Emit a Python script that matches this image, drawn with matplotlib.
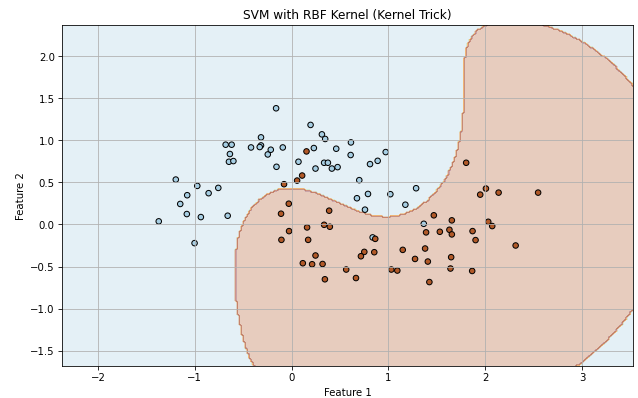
import numpy as np
import matplotlib
matplotlib.use("Agg")
import matplotlib.pyplot as plt

# points: class 0 (upper moon) and class 1 (lower moon)
x0 = [-0.681, -0.619, -0.316, -0.419, -0.316, -0.329, -0.246, -0.215, -0.637, -0.647,
      -0.601, -1.196, -0.974, -0.757, -1.078, -0.857, -1.150, -1.082, -0.937, -0.660,
      -1.372, -1.002, -0.160, 0.196, 0.313, 0.347, -0.091, 0.230, 0.461, 0.613,
      0.610, 0.972, -0.156, 0.071, 0.247, 0.336, 0.375, 0.416, 0.475, 0.810,
      0.889, 0.699, 0.675, 0.789, 0.758, 1.020, 1.286, 1.175, 1.365, 0.837]
y0 = [0.949, 0.949, 1.036, 0.916, 0.940, 0.921, 0.833, 0.889, 0.838, 0.746,
      0.754, 0.534, 0.459, 0.435, 0.348, 0.372, 0.244, 0.124, 0.088, 0.104,
      0.037, -0.222, 1.382, 1.184, 1.072, 1.017, 0.916, 0.909, 0.901, 0.976,
      0.826, 0.861, 0.686, 0.746, 0.665, 0.734, 0.734, 0.665, 0.682, 0.718,
      0.757, 0.527, 0.312, 0.363, 0.176, 0.360, 0.431, 0.235, 0.008, -0.154]
x1 = [0.154, 0.109, 0.057, -0.078, -0.029, -0.109, 0.388, 0.336, 0.395, 0.160,
      -0.026, 1.803, 2.007, 1.948, 2.138, 2.546, 1.469, 1.655, 2.031, 2.072,
      1.389, 1.531, 1.630, 1.655, 1.869, -0.105, 0.171, 0.247, 0.116, 0.212,
      0.320, 0.564, 0.344, 1.900, 2.314, 0.864, 0.751, 0.716, 0.854, 1.148,
      1.379, 1.275, 1.407, 1.648, 0.665, 1.030, 1.092, 1.641, 1.865, 1.423]
y1 = [0.869, 0.582, 0.522, 0.479, 0.247, 0.128, 0.164, -0.004, -0.027, -0.035,
      -0.079, 0.734, 0.427, 0.355, 0.379, 0.379, 0.109, 0.049, 0.032, -0.019,
      -0.094, -0.087, -0.063, -0.118, -0.079, -0.183, -0.183, -0.369, -0.461, -0.473,
      -0.470, -0.536, -0.652, -0.186, -0.250, -0.171, -0.326, -0.378, -0.330, -0.302,
      -0.286, -0.410, -0.441, -0.389, -0.637, -0.536, -0.548, -0.524, -0.553, -0.685]

X = np.column_stack([x0 + x1, y0 + y1])
y = np.array([0] * len(x0) + [1] * len(x1))


def rbf(A, B, gamma):
    d = (A ** 2).sum(1)[:, None] + (B ** 2).sum(1)[None, :] - 2 * A @ B.T
    return np.exp(-gamma * d)


def fit_svc(X, y, C=1.0, tol=1e-3, max_iter=100000):
    """Small SMO solver (maximal violating pair), like libsvm's."""
    gamma = 1.0 / (X.shape[1] * X.var())
    s = np.where(y == 1, 1.0, -1.0)
    K = rbf(X, X, gamma)
    Q = s[:, None] * s[None, :] * K
    a = np.zeros(len(s))
    G = -np.ones(len(s))
    for _ in range(max_iter):
        up = ((s > 0) & (a < C)) | ((s < 0) & (a > 0))
        low = ((s > 0) & (a > 0)) | ((s < 0) & (a < C))
        v = -s * G
        iu, il = np.where(up)[0], np.where(low)[0]
        i = iu[np.argmax(v[iu])]
        j = il[np.argmin(v[il])]
        if v[i] - v[j] < tol:
            break
        eta = max(K[i, i] + K[j, j] - 2 * K[i, j], 1e-12)
        t = (v[i] - v[j]) / eta
        t = min(t, C - a[i] if s[i] > 0 else a[i])
        t = min(t, a[j] if s[j] > 0 else C - a[j])
        a[i] += s[i] * t
        a[j] -= s[j] * t
        G += Q[:, i] * s[i] * t - Q[:, j] * s[j] * t
    free = (a > 1e-8) & (a < C - 1e-8)
    f = K @ (a * s)
    rho = np.mean(f[free] - s[free]) if free.any() else 0.0
    return gamma, a * s, rho


gamma, coef, rho = fit_svc(X, y)

# mesh for the decision regions
h = 0.02
x_min, x_max = X[:, 0].min() - 1, X[:, 0].max() + 1
y_min, y_max = X[:, 1].min() - 1, X[:, 1].max() + 1
xx, yy = np.meshgrid(np.arange(x_min, x_max, h), np.arange(y_min, y_max, h))
grid = np.c_[xx.ravel(), yy.ravel()]
Z = (rbf(grid, X, gamma) @ coef - rho > 0).astype(int).reshape(xx.shape)

dpi = 72.6
fig = plt.figure(figsize=(638.3 / dpi, 398.3 / dpi), dpi=dpi)
plt.contourf(xx, yy, Z, alpha=0.3, cmap=plt.cm.Paired)
plt.scatter(X[:, 0], X[:, 1], c=y, cmap=plt.cm.Paired, edgecolors="k", s=30)
plt.title("SVM with RBF Kernel (Kernel Trick)")
plt.xlabel("Feature 1")
plt.ylabel("Feature 2")
plt.grid(True)
plt.subplots_adjust(left=0.097, right=0.992, top=0.937, bottom=0.080)
plt.savefig("out.png", dpi=dpi)
